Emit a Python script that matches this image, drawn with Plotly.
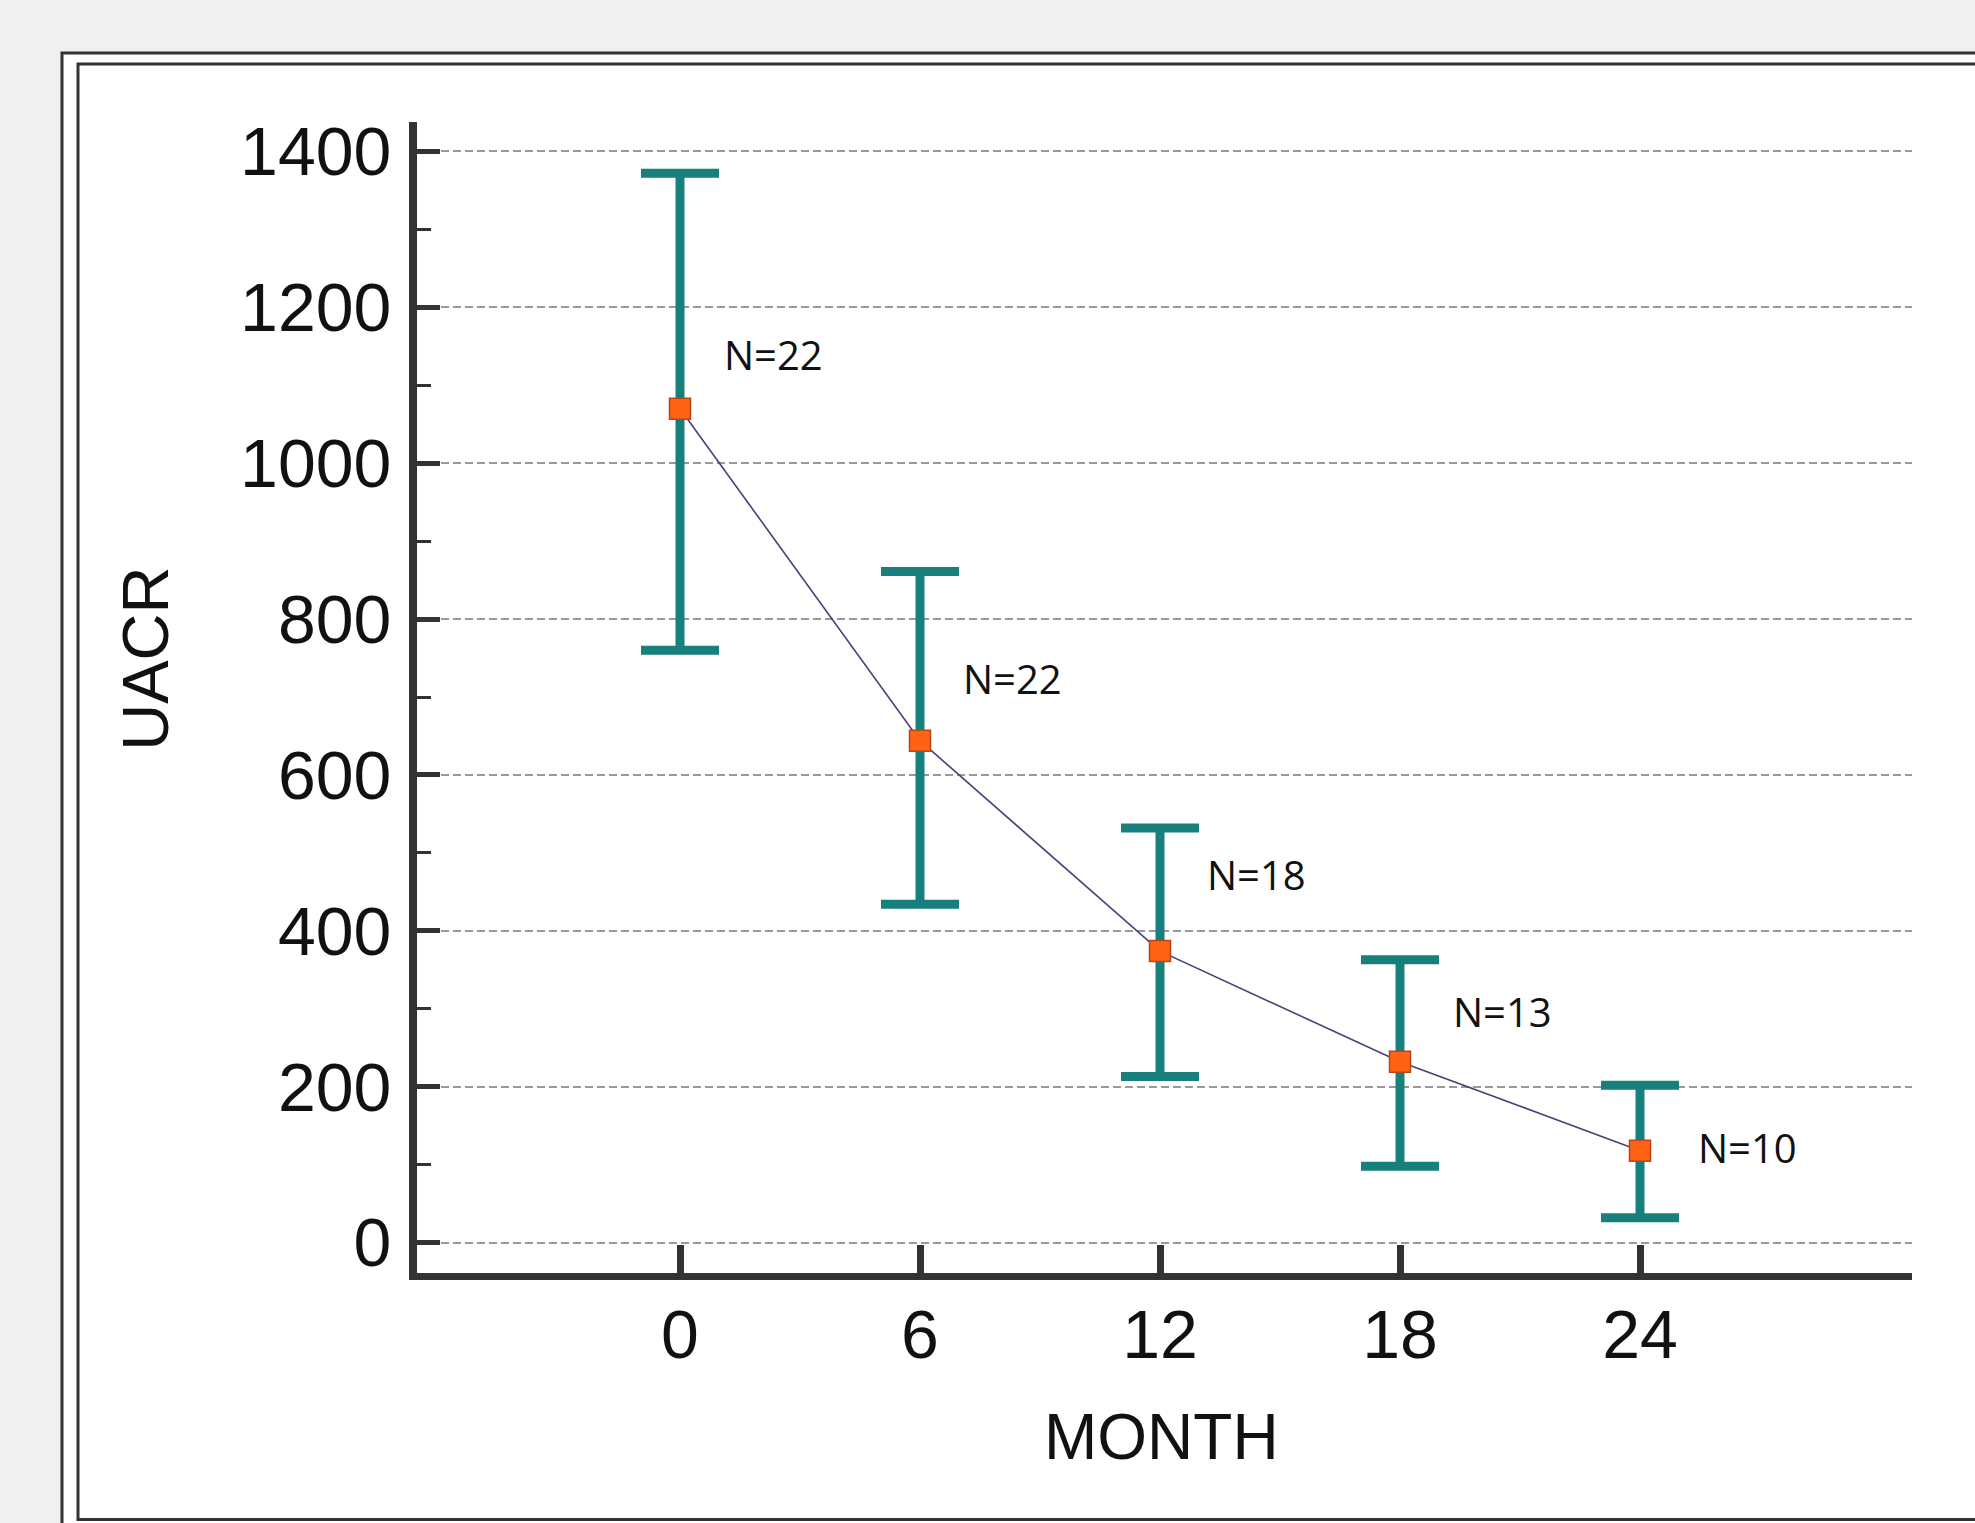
import plotly.graph_objects as go

# ---- data ----
months = [0, 6, 12, 18, 24]
uacr_mean = [1070, 644, 374, 232, 118]
uacr_upper = [1372, 861, 532, 363, 202]
uacr_lower = [760, 434, 213, 98, 32]
n_labels = ["N=22", "N=22", "N=18", "N=13", "N=10"]
x_ticks = [0, 6, 12, 18, 24]
y_ticks = [0, 200, 400, 600, 800, 1000, 1200, 1400]

# label anchor positions (data coords)
label_x = [1.05, 7.03, 13.13, 19.28, 25.39]
label_y = [1140, 724, 472, 297, 122]

err_plus = [u - m for u, m in zip(uacr_upper, uacr_mean)]
err_minus = [m - l for m, l in zip(uacr_mean, uacr_lower)]

W, H = 1975, 1523
L, R, T, B = 417, W - 1912, 122, 249.5
pw, ph = W - L - R, H - T - B

def px(xp):
    return (xp - L) / pw

def py(yp):
    return (H - B - yp) / ph

fig = go.Figure()
fig.add_trace(go.Scatter(
    x=months, y=uacr_mean, mode="lines+markers",
    line=dict(color="#4a3f78", width=1.6),
    marker=dict(symbol="square", size=21, color="#ff6212",
                line=dict(color="#b8461c", width=1.5)),
    error_y=dict(type="data", symmetric=False, array=err_plus,
                 arrayminus=err_minus, color="#17807c",
                 thickness=9, width=39),
    showlegend=False, hoverinfo="x+y",
))

for t, lx, ly in zip(n_labels, label_x, label_y):
    fig.add_annotation(x=lx, y=ly, text=t, showarrow=False,
                       xanchor="left", yanchor="middle",
                       font=dict(family="Open Sans, Noto Sans, sans-serif",
                                 size=40, color="#111111"))

title_font = dict(family="Liberation Sans, Arial, sans-serif", size=64, color="#111111")
fig.add_annotation(xref="paper", yref="paper", x=px(146), y=py(659),
                   text="UACR", textangle=-90, showarrow=False,
                   xanchor="center", yanchor="middle",
                   font=dict(family="Liberation Sans, Arial, sans-serif", size=65, color="#111111"))
fig.add_annotation(xref="paper", yref="paper", x=px(1161), y=py(1438),
                   text="MONTH", showarrow=False,
                   xanchor="center", yanchor="middle", font=title_font)

axis_font = dict(family="Liberation Sans, Arial, sans-serif", size=68, color="#111111")
fig.update_xaxes(
    range=[(L - 680) / 40, (1912 - 680) / 40],
    tickvals=x_ticks, ticktext=[str(v) for v in x_ticks],
    ticks="inside", ticklen=28, tickwidth=7, tickcolor="#333333",
    showline=True, linewidth=7, linecolor="#333333",
    showgrid=False, zeroline=False,
    tickfont=axis_font, ticklabelstandoff=-4,
)
fig.update_yaxes(
    range=[-39, 1437.8],
    tickvals=y_ticks, ticktext=[str(v) for v in y_ticks],
    ticks="inside", ticklen=23, tickwidth=5, tickcolor="#333333",
    minor=dict(ticks="inside", ticklen=14, tickwidth=2.5, tickcolor="#333333",
               dtick=100, tick0=0, showgrid=False),
    showline=True, linewidth=8, linecolor="#333333",
    showgrid=True, gridcolor="#999999", gridwidth=1.5, griddash="8px,4px",
    zeroline=False,
    tickfont=axis_font, ticklabelstandoff=4,
)

# white panel with double frame (extends beyond right/bottom edges)
fig.add_shape(type="rect", xref="paper", yref="paper",
              x0=px(62), x1=px(2100), y0=py(1650), y1=py(53),
              fillcolor="white", line=dict(color="#333333", width=3), layer="below")
fig.add_shape(type="rect", xref="paper", yref="paper",
              x0=px(78), x1=px(2100), y0=py(1520), y1=py(64),
              fillcolor="rgba(0,0,0,0)", line=dict(color="#333333", width=3), layer="below")

fig.update_layout(
    width=W, height=H,
    margin=dict(l=L, r=R, t=T, b=B, autoexpand=False),
    paper_bgcolor="#f0f0f0", plot_bgcolor="white",
)

fig.write_html(
    "out.html",
    config={"displayModeBar": False},
    post_script="document.body.style.margin='0';document.body.style.overflow='hidden';",
)
